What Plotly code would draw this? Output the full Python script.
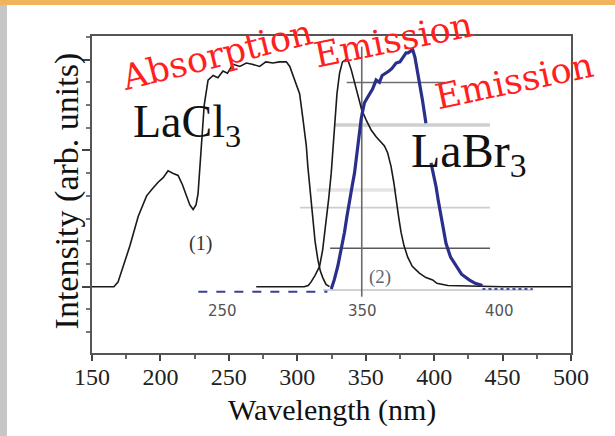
import plotly.graph_objects as go

# ---------------- data ----------------
lacl3_x = [150, 166, 169, 172.7, 177.7, 183.8, 189.9, 194, 198.3, 202, 205.6, 209, 212.9, 216, 219,
           221.5, 223.9, 226, 227.5, 229, 230, 232, 234.8, 238.5, 242, 245.7, 249, 253, 258, 262.8,
           267, 272.5, 277, 282.2, 287, 292, 294.5, 296.8, 299, 301.7, 304.1, 306.6, 307.7, 309.5,
           311.4, 313, 315, 316.8, 318.6, 321, 323.5]
lacl3_y = [0, 0, 0.02, 0.09, 0.18, 0.31, 0.40, 0.43, 0.46, 0.48, 0.51, 0.50, 0.49, 0.45, 0.40,
           0.36, 0.34, 0.36, 0.41, 0.55, 0.65, 0.80, 0.91, 0.93, 0.92, 0.95, 0.94, 0.98, 0.97, 0.985,
           0.98, 0.97, 0.99, 0.985, 0.99, 0.99, 0.97, 0.93, 0.89, 0.85, 0.74, 0.62, 0.53, 0.41,
           0.29, 0.20, 0.12, 0.07, 0.04, 0.01, 0]

labr3_abs_x = [270, 305, 308, 310, 313, 316.3, 318.5, 321.1, 323, 324.8, 326, 327.2, 329, 330.9, 333,
               335.7, 337.5, 339.4, 341.5, 344.2, 347, 350.3, 354, 357.6, 361, 363.7, 366, 368.5,
               370.5, 372.2, 374, 375.8, 378, 380.7, 384, 389.2, 394, 398.9, 402, 410, 450, 500]
labr3_abs_y = [0, 0, 0.005, 0.02, 0.05, 0.09, 0.16, 0.28, 0.39, 0.50, 0.61, 0.72, 0.85, 0.94, 0.99,
               1.0, 0.99, 0.956, 0.91, 0.84, 0.78, 0.735, 0.69, 0.66, 0.64, 0.62, 0.59, 0.53,
               0.46, 0.38, 0.31, 0.24, 0.18, 0.13, 0.09, 0.06, 0.04, 0.03, 0.015, 0.005, 0, 0]

labr3_em_x = [324.8, 327, 329.6, 332, 334.5, 336.3, 338.1, 340, 341.8, 343, 344.2, 345.5, 346.7, 348,
              349.1, 351, 352.7, 355, 357.6, 360, 362, 364.9, 367, 369, 372.2, 375, 377, 379.5, 381,
              383, 384.3, 386, 387.5, 389.2, 391.5, 394, None, 397.7, 399.5, 401.4, 403, 405, 407,
              408.7, 412, 416, 420, 425.6, 430, 435.3]
labr3_em_y = [-0.01, 0.03, 0.09, 0.16, 0.24, 0.31, 0.38, 0.44, 0.50, 0.56, 0.62, 0.68, 0.74, 0.78,
              0.81, 0.83, 0.85, 0.87, 0.91, 0.90, 0.93, 0.94, 0.95, 0.96, 0.985, 0.99, 1.01, 1.03, 1.03,
              1.04, 1.044, 1.01, 0.96, 0.91, 0.82, 0.72, None, 0.545, 0.50, 0.44, 0.38, 0.31, 0.25,
              0.19, 0.13, 0.09, 0.055, 0.03, 0.015, 0.005]

em_base_left_x = [227.7, 322]
em_base_left_y = [-0.022, -0.022]
em_base_right_x = [435.3, 472]
em_base_right_y = [-0.01, -0.01]

# overlay guide segments (x0, x1, y) in data units
guide_x0 = [336.1, 327.6, 314.2, 302.0, 324.0, 318.8]
guide_x1 = [408.0, 440.8, 372.6, 440.8, 440.8, 472.2]
guide_y = [0.899, 0.712, 0.426, 0.348, 0.169, -0.015]
guide_vx = 347.1
guide_vy = [-0.044, 1.057]

x_ticks = [150, 200, 250, 300, 350, 400, 450, 500]
overlay_tick_labels = ["250", "350", "400"]
overlay_tick_pos = [245.7, 347.3, 447.4]

# ---------------- figure ----------------
fig = go.Figure()

guide_colors = ["#6e6e6e", "#cfcfcf", "#e4e4e4", "#cdcdcd", "#5a5a5a", "#d2d2d2"]
guide_widths = [1.6, 3.5, 3.5, 1.6, 1.6, 2]
for x0, x1, y, c, w in zip(guide_x0, guide_x1, guide_y, guide_colors, guide_widths):
    fig.add_shape(type="line", xref="x", yref="y", x0=x0, x1=x1, y0=y, y1=y,
                  line=dict(color=c, width=w), layer="below")
fig.add_shape(type="line", xref="x", yref="y", x0=guide_vx, x1=guide_vx,
              y0=guide_vy[0], y1=guide_vy[1], line=dict(color="#6a6a6a", width=1.6), layer="below")

fig.add_trace(go.Scatter(x=em_base_left_x, y=em_base_left_y, mode="lines",
                         line=dict(color="#3a3f96", width=2, dash="dash"), hoverinfo="skip"))
fig.add_trace(go.Scatter(x=em_base_right_x, y=em_base_right_y, mode="lines",
                         line=dict(color="#4a4fa6", width=2, dash="dot"), hoverinfo="skip"))
fig.add_trace(go.Scatter(x=lacl3_x, y=lacl3_y, mode="lines",
                         line=dict(color="#1a1a1a", width=1.6)))
fig.add_trace(go.Scatter(x=labr3_abs_x, y=labr3_abs_y, mode="lines",
                         line=dict(color="#1a1a1a", width=1.6)))
fig.add_trace(go.Scatter(x=labr3_em_x, y=labr3_em_y, mode="lines", connectgaps=False,
                         line=dict(color="#2b2f8c", width=3.2)))

ann = []
red = "#ff1f1f"
ann.append(dict(x=241.5, y=1.02, text="Absorption", textangle=-14,
                font=dict(family="DejaVu Serif", size=35, color=red)))
ann.append(dict(x=370.0, y=1.085, text="Emission", textangle=-11.5,
                font=dict(family="DejaVu Serif", size=35, color=red)))
ann.append(dict(x=458.5, y=0.905, text="Emission", textangle=-12,
                font=dict(family="DejaVu Serif", size=35, color=red)))
ann.append(dict(x=219.4, y=0.712, text="LaCl<sub>3</sub>",
                font=dict(family="Liberation Serif", size=46, color="#111")))
ann.append(dict(x=425.0, y=0.585, text="LaBr<sub>3</sub>",
                font=dict(family="Liberation Serif", size=48, color="#111")))
ann.append(dict(x=229.6, y=0.192, text="(1)",
                font=dict(family="Liberation Serif", size=20, color="#333")))
ann.append(dict(x=360.4, y=0.043, text="(2)",
                font=dict(family="Liberation Serif", size=19, color="#666")))
for t, p in zip(overlay_tick_labels, overlay_tick_pos):
    ann.append(dict(x=p, y=-0.107, text=t,
                    font=dict(family="DejaVu Sans", size=15, color="#555")))
for a in ann:
    a.update(xref="x", yref="y", showarrow=False, xanchor="center", yanchor="middle")

ann.append(dict(xref="paper", yref="paper", x=-0.052, y=0.51, text="Intensity (arb. units)",
                textangle=-90, showarrow=False, xanchor="center", yanchor="middle",
                font=dict(family="Liberation Serif", size=34, color="#111")))
ann.append(dict(xref="paper", yref="paper", x=0.501, y=-0.18, text="Wavelength (nm)",
                showarrow=False, xanchor="center", yanchor="middle",
                font=dict(family="Liberation Serif", size=30, color="#111")))

shapes_bg = [
    dict(type="rect", xref="paper", yref="paper", x0=-0.2, x1=1.1, y0=1.0978, y1=1.2,
         fillcolor="#f1b45c", line=dict(width=0), layer="below"),
    dict(type="rect", xref="paper", yref="paper", x0=-0.2, x1=-0.1775, y0=-0.3, y1=1.0978,
         fillcolor="#c6c6c6", line=dict(width=0), layer="below"),
]
for s in shapes_bg:
    fig.add_shape(**s)

fig.update_layout(
    width=615, height=436,
    margin=dict(l=92, r=44, t=36, b=83),
    paper_bgcolor="white", plot_bgcolor="white",
    showlegend=False,
    annotations=ann,
    xaxis=dict(range=[150, 500], tickvals=x_ticks, ticks="outside", ticklen=6, tickwidth=1.5,
               tickcolor="#444", showline=True, linecolor="#555", linewidth=2, mirror=True,
               showgrid=False, zeroline=False, ticklabelstandoff=-5,
               minor=dict(dtick=25, tick0=150, ticks="outside", ticklen=4, tickcolor="#666", showgrid=False),
               tickfont=dict(family="Liberation Serif", size=24, color="#222")),
    yaxis=dict(range=[-0.292, 1.104], tickvals=[0, 0.6, 1.0], showticklabels=False,
               ticks="outside", ticklen=8, tickwidth=1.5, tickcolor="#444",
               showline=True, linecolor="#555", linewidth=2, mirror=True,
               showgrid=False, zeroline=False,
               minor=dict(dtick=0.1, tick0=0, ticks="outside", ticklen=4, tickcolor="#777", showgrid=False)),
)

fig.write_html("out.html", config={"displayModeBar": False},
               post_script="document.body.style.margin='0';document.body.style.overflow='hidden';")
